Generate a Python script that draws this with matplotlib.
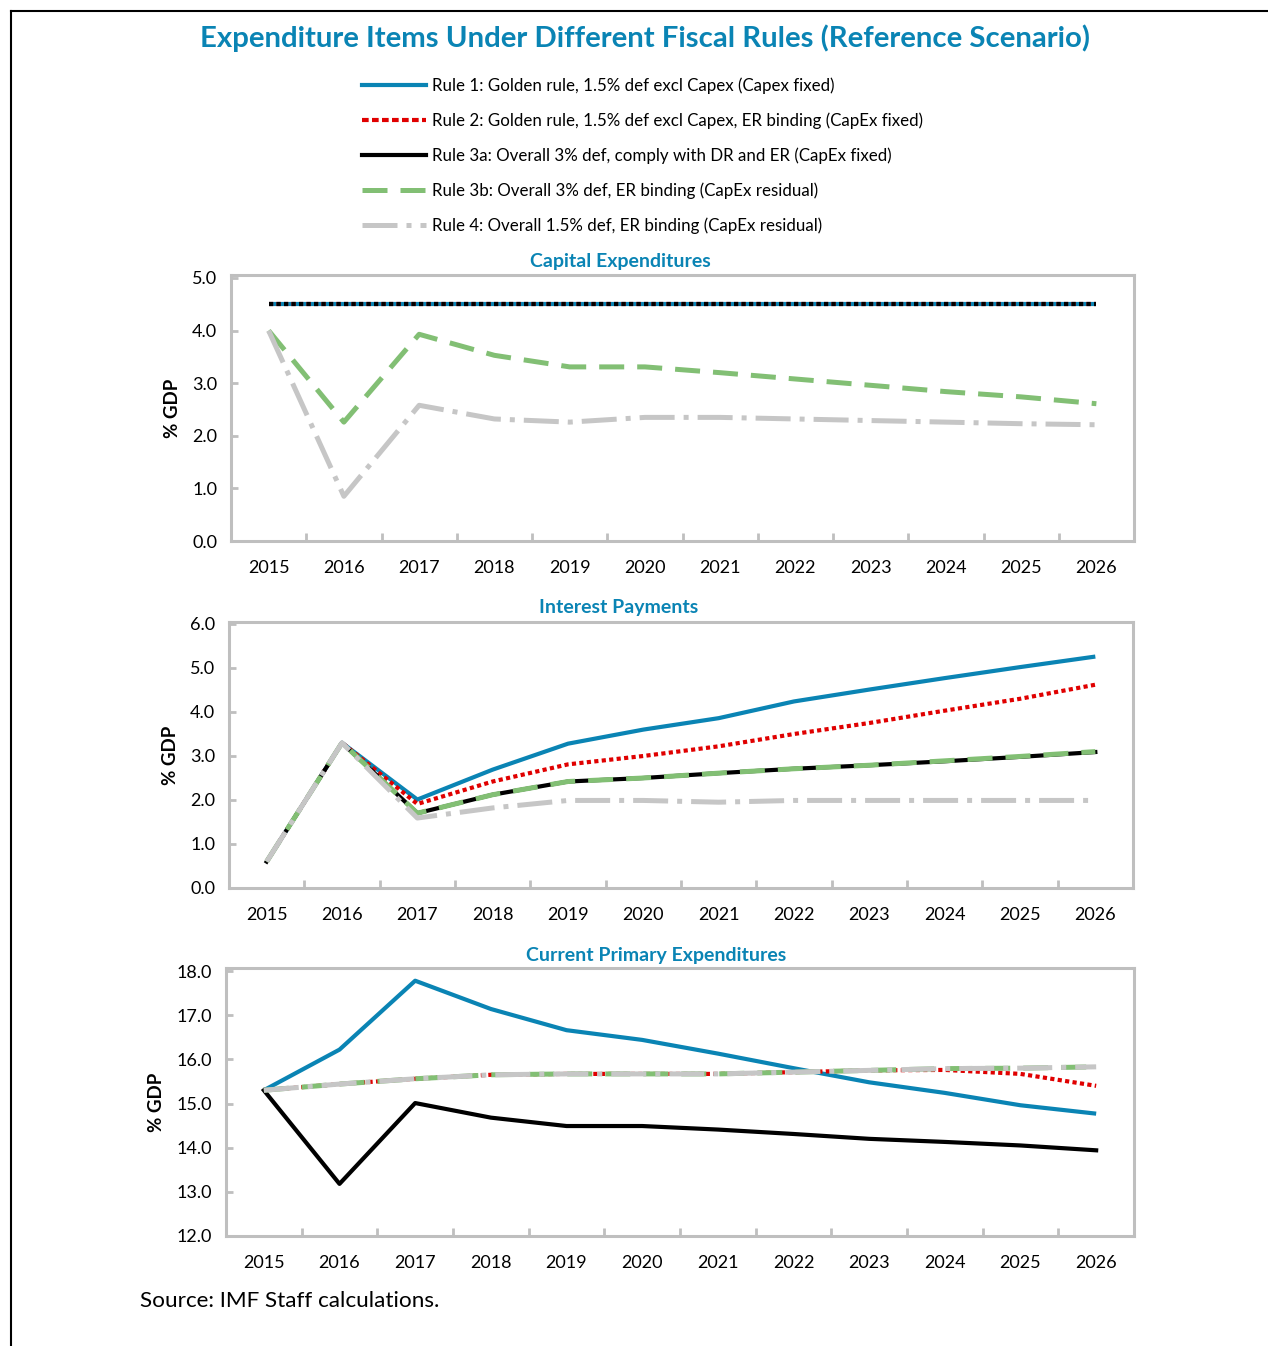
import numpy as np
import matplotlib
matplotlib.use("Agg")
import matplotlib.pyplot as plt
from matplotlib.lines import Line2D

plt.rcParams["font.family"] = ["Lato", "DejaVu Sans"]

# ------------------------------------------------------------
# Data (% of GDP)
# ------------------------------------------------------------
years = ["2015", "2016", "2017", "2018", "2019", "2020",
         "2021", "2022", "2023", "2024", "2025", "2026"]

labels = [
    "Rule 1: Golden rule, 1.5% def excl Capex (Capex fixed)",
    "Rule 2: Golden rule, 1.5% def excl Capex, ER binding (CapEx fixed)",
    "Rule 3a: Overall 3% def, comply with DR and ER (CapEx fixed)",
    "Rule 3b: Overall 3% def, ER binding (CapEx residual)",
    "Rule 4: Overall 1.5% def, ER binding (CapEx residual)",
]

# Capital expenditures
capex_r1 = [4.5] * 12
capex_r2 = [4.5] * 12
capex_r3a = [4.5] * 12
capex_r3b = [4.0, 2.26, 3.93, 3.53, 3.31, 3.31, 3.20, 3.08, 2.96, 2.84, 2.74, 2.61]
capex_r4 = [4.0, 0.85, 2.58, 2.32, 2.26, 2.35, 2.35, 2.32, 2.29, 2.26, 2.23, 2.21]

# Interest payments
int_r1 = [0.6, 3.3, 2.01, 2.69, 3.28, 3.60, 3.86, 4.24, 4.51, 4.77, 5.02, 5.26]
int_r2 = [0.6, 3.3, 1.91, 2.42, 2.81, 3.00, 3.22, 3.50, 3.75, 4.03, 4.30, 4.62]
int_r3a = [0.6, 3.3, 1.70, 2.12, 2.42, 2.50, 2.61, 2.71, 2.79, 2.88, 2.98, 3.09]
int_r3b = [0.6, 3.3, 1.70, 2.12, 2.42, 2.50, 2.61, 2.71, 2.79, 2.89, 2.99, 3.10]
int_r4 = [0.6, 3.3, 1.59, 1.82, 1.99, 1.99, 1.95, 1.99, 1.99, 1.99, 1.99, 1.99]

# Current primary expenditures
cpe_r1 = [15.3, 16.22, 17.78, 17.14, 16.66, 16.44, 16.13, 15.80, 15.48, 15.24, 14.96, 14.77]
cpe_r2 = [15.3, 15.44, 15.56, 15.65, 15.67, 15.67, 15.67, 15.71, 15.75, 15.76, 15.67, 15.40]
cpe_r3a = [15.3, 13.18, 15.01, 14.68, 14.49, 14.49, 14.41, 14.31, 14.20, 14.13, 14.05, 13.94]
cpe_r3b = [15.3, 15.44, 15.56, 15.65, 15.67, 15.67, 15.67, 15.71, 15.75, 15.79, 15.80, 15.83]
cpe_r4 = [15.3, 15.44, 15.56, 15.65, 15.67, 15.67, 15.67, 15.71, 15.75, 15.79, 15.80, 15.83]

# ------------------------------------------------------------
# Styles
# ------------------------------------------------------------
BLUE = "#0A84B4"
RED = "#E00000"
BLACK = "#000000"
GREEN = "#82BF74"
GRAY = "#C6C6C6"
TITLE = "#0A84B4"
SPINE = "#BFBFBF"

W, H = 1268, 1346
fig = plt.figure(figsize=(W / 100, H / 100), dpi=100)


def frac_box(left, top, right, bottom):
    return [left / W, 1 - bottom / H, (right - left) / W, (bottom - top) / H]


def style_axes(ax, ymin, ymax, step):
    x = np.arange(len(years))
    ax.set_xlim(-0.5, len(years) - 0.5)
    ax.set_ylim(ymin, ymax)
    ax.set_xticks(x)
    ax.set_xticklabels(years, fontsize=13)
    ax.set_xticks(np.arange(0.5, len(years) - 1, 1.0), minor=True)
    ax.tick_params(axis="x", which="major", length=0, pad=14)
    ax.tick_params(axis="x", which="minor", length=6, width=2,
                   color=SPINE, direction="in")
    yt = np.arange(ymin, ymin + step * 6.5, step)
    yt = yt[yt <= ymax + 1e-9]
    ax.set_yticks(yt)
    ax.set_yticklabels([f"{v:.1f}" for v in yt], fontsize=13)
    ax.tick_params(axis="y", length=5, width=2, color=SPINE,
                   direction="in", pad=10)
    for s in ax.spines.values():
        s.set_color(SPINE)
        s.set_linewidth(2.2)
    ax.set_ylabel("% GDP", fontsize=13.5, fontweight="bold", labelpad=8)


def draw_panel(ax, r1, r2, r3a, r3b, r4, flat=False):
    x = np.arange(len(years))
    ax.plot(x, r1, color=BLUE, lw=3.0, solid_capstyle="butt", zorder=2)
    ax.plot(x, r2, color=RED, lw=3.0, dashes=(1.0, 0.8),
            dash_capstyle="butt", zorder=3)
    if flat:
        # the three coincident series show as a mixed dotted line
        ax.plot(x, r3a, color=BLACK, lw=3.0, dashes=(1.0, 0.8),
                dash_capstyle="butt", zorder=4)
    else:
        ax.plot(x, r3a, color=BLACK, lw=3.0, zorder=4)
    ax.plot(x, r3b, color=GREEN, lw=3.6, dashes=(5, 2.6),
            dash_capstyle="butt", zorder=5)
    ax.plot(x, r4, color=GRAY, lw=3.6, dashes=(7, 1.8, 1, 1.8),
            dash_capstyle="butt", zorder=6)


# Panel 1: capital expenditures
ax1 = fig.add_axes(frac_box(231, 275, 1134, 541))
draw_panel(ax1, capex_r1, capex_r2, capex_r3a, capex_r3b, capex_r4, flat=True)
style_axes(ax1, 0.0, 5.0 * 266 / 263, 1.0)
fig.text(620 / W, 1 - 261 / H, "Capital Expenditures", ha="center",
         va="center", fontsize=14, fontweight="bold", color=TITLE)

# Panel 2: interest payments
ax2 = fig.add_axes(frac_box(229, 622, 1133, 888))
draw_panel(ax2, int_r1, int_r2, int_r3a, int_r3b, int_r4)
style_axes(ax2, 0.0, 6.0 * 266 / 264, 1.0)
fig.text(619 / W, 1 - 608 / H, "Interest Payments", ha="center",
         va="center", fontsize=14, fontweight="bold", color=TITLE)

# Panel 3: current primary expenditures
ax3 = fig.add_axes(frac_box(226, 968, 1134, 1236))
draw_panel(ax3, cpe_r1, cpe_r2, cpe_r3a, cpe_r3b, cpe_r4)
style_axes(ax3, 12.0, 12.0 + 6.0 * 268 / 265, 1.0)
fig.text(656 / W, 1 - 955 / H, "Current Primary Expenditures", ha="center",
         va="center", fontsize=14, fontweight="bold", color=TITLE)

# ------------------------------------------------------------
# Title, legend, source, frame
# ------------------------------------------------------------
fig.text(645 / W, 1 - 38 / H,
         "Expenditure Items Under Different Fiscal Rules (Reference Scenario)",
         ha="center", va="center", fontsize=21.2, fontweight="bold", color=TITLE)

handles = [
    Line2D([], [], color=BLUE, lw=3.0),
    Line2D([], [], color=RED, lw=3.0, dashes=(1.6, 0.8)),
    Line2D([], [], color=BLACK, lw=3.0),
    Line2D([], [], color=GREEN, lw=3.6, dashes=(5, 2.6)),
    Line2D([], [], color=GRAY, lw=3.6, dashes=(7, 1.8, 1, 1.8)),
]
fig.legend(handles, labels, loc="upper left",
           bbox_to_anchor=(362 / W, 1 - 77 / H), frameon=False,
           fontsize=12.2, handlelength=3.8, handletextpad=0.35,
           labelspacing=1.1, borderpad=0, borderaxespad=0)

fig.text(140 / W, 1 - 1301 / H, "Source: IMF Staff calculations.",
         ha="left", va="center", fontsize=16.2)

fig.add_artist(Line2D([11 / W, 11 / W], [0, 1 - 11 / H], color="black",
                      lw=1.5, transform=fig.transFigure))
fig.add_artist(Line2D([11 / W, 1], [1 - 11 / H, 1 - 11 / H], color="black",
                      lw=1.5, transform=fig.transFigure))

fig.savefig("out.png", dpi=100)
